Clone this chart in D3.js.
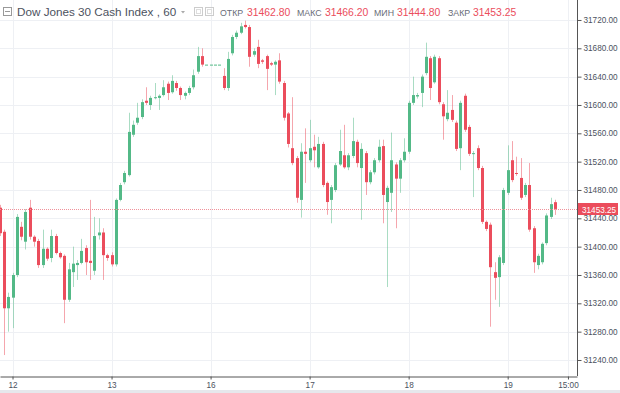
<!DOCTYPE html>
<html><head><meta charset="utf-8">
<script src="https://cdn.jsdelivr.net/npm/d3@7"></script>
<style>body{margin:0;background:#fff;} svg{display:block;font-family:"Liberation Sans",Arial,sans-serif;}</style>
</head><body><svg id="c" width="620" height="393"></svg>
<script>
// ---- data (hourly bars, index 0..129) ----
const opens  = [31455,31421,31313,31328,31360,31428,31407,31455,31414,31408,31374,31397,31384,31415,31391,31387,31325,31364,31374,31377,31398,31380,31366,31416,31420,31388,31388,31375,31466,31491,31501,31558,31575,31583,31606,31600,31610,31610,31614,31630,31618,31631,31624,31613,31617,31625,31647,31669,31657,31657,31657,31657,31641,31624,31673,31696,31702,31713,31710,31671,31682,31663,31669,31659,31657,31663,31631,31588,31539,31525,31466,31534,31522,31541,31512,31545,31490,31466,31480,31516,31529,31512,31528,31548,31511,31532,31491,31505,31522,31542,31463,31476,31516,31496,31522,31534,31603,31612,31617,31645,31666,31632,31666,31601,31580,31593,31575,31539,31613,31569,31531,31539,31511,31435,31431,31364,31357,31377,31476,31522,31504,31497,31473,31487,31426,31374,31378,31405,31442,31462.80];
const highs  = [31459,31424,31335,31363,31446,31435,31453,31466,31416,31411,31424,31399,31424,31418,31393,31389,31377,31400,31381,31411,31402,31466,31442,31440,31426,31390,31392,31468,31490,31507,31589,31578,31603,31608,31625,31613,31631,31615,31635,31633,31642,31634,31626,31619,31627,31650,31682,31680,31657,31657,31657,31657,31652,31675,31699,31705,31716,31719,31713,31680,31692,31665,31671,31661,31663,31673,31634,31590,31611,31528,31546,31567,31579,31558,31555,31548,31492,31487,31518,31565,31572,31532,31582,31551,31546,31535,31508,31525,31551,31551,31486,31561,31519,31525,31553,31606,31640,31617,31643,31688,31669,31671,31669,31604,31621,31614,31578,31606,31616,31572,31535,31543,31514,31437,31434,31378,31388,31483,31543,31549,31527,31525,31490,31518,31429,31390,31406,31447,31469,31466.20];
const lows   = [31415,31247,31280,31285,31357,31409,31396,31410,31400,31370,31370,31380,31378,31389,31383,31292,31322,31343,31353,31375,31360,31353,31360,31410,31353,31380,31372,31372,31464,31488,31499,31555,31572,31580,31600,31593,31608,31593,31612,31607,31616,31620,31607,31608,31614,31622,31644,31654,31657,31657,31657,31657,31621,31620,31670,31693,31700,31708,31654,31668,31652,31658,31621,31655,31614,31630,31578,31540,31515,31462,31441,31490,31519,31512,31510,31484,31445,31433,31477,31514,31510,31508,31525,31512,31438,31473,31488,31502,31519,31433,31343,31449,31426,31476,31519,31531,31600,31609,31597,31642,31607,31630,31601,31551,31577,31576,31535,31508,31562,31528,31470,31508,31432,31422,31287,31325,31315,31374,31473,31491,31500,31466,31470,31421,31363,31368,31375,31402,31439,31444.80];
const closes = [31419,31313,31329,31360,31442,31414,31449,31414,31407,31374,31397,31383,31415,31391,31385,31325,31368,31376,31377,31394,31378,31377,31415,31420,31388,31384,31375,31466,31487,31504,31562,31572,31582,31604,31603,31610,31611,31613,31625,31617,31634,31624,31614,31617,31624,31642,31669,31657,31657,31657,31657,31657,31624,31665,31696,31702,31711,31710,31668,31676,31658,31661,31651,31657,31661,31633,31582,31545,31518,31469,31534,31531,31539,31536,31545,31487,31463,31484,31515,31535,31512,31529,31549,31518,31538,31491,31505,31522,31541,31473,31483,31522,31496,31522,31534,31603,31614,31614,31640,31668,31624,31668,31604,31584,31589,31579,31538,31603,31565,31531,31532,31511,31435,31425,31371,31356,31385,31480,31508,31494,31503,31469,31487,31424,31378,31387,31404,31444,31460,31453.25];
const dayTickBars   = [3, 26, 49, 72, 95, 118, 132];
const dayTickLabels = ["12", "13", "16", "17", "18", "19", "15:00"];
const priceTicks = [31240,31280,31320,31360,31400,31440,31480,31520,31560,31600,31640,31680,31720];
const legendLabels = ["ОТКР", "МАКС", "МИН", "ЗАКР"];
const title = "Dow Jones 30 Cash Index , 60";

// ---- layout ----
const svg = d3.select("#c");
const plotR = 577, plotB = 376;
const UP = "#53b987", DOWN = "#eb4d5c", AXIS = "#555", TXT = "#4c525e";
const x = d3.scaleLinear().domain([0.09, 134.1]).range([0, plotR]);
const y = d3.scaleLinear().domain([31217.4, 31748.2]).range([plotB, 0]);

svg.append("rect").attr("width",620).attr("height",393).attr("fill","#fff");

// grid
const grid = svg.append("g");
grid.selectAll("line.h").data(priceTicks).join("line")
  .attr("x1",0).attr("x2",plotR)
  .attr("y1",d=>Math.round(y(d))+0.5).attr("y2",d=>Math.round(y(d))+0.5)
  .attr("stroke","#eef0f4");
grid.selectAll("line.v").data(dayTickBars).join("line")
  .attr("y1",0).attr("y2",plotB)
  .attr("x1",d=>Math.round(x(d))+0.5).attr("x2",d=>Math.round(x(d))+0.5)
  .attr("stroke","#eef0f4");

// candles
const bars = opens.map((o,i)=>({i,o,h:highs[i],l:lows[i],c:closes[i]}));
const cg = svg.append("g");
cg.selectAll("line").data(bars).join("line")
  .attr("x1",d=>Math.round(x(d.i))+0.5).attr("x2",d=>Math.round(x(d.i))+0.5)
  .attr("y1",d=>y(d.h)).attr("y2",d=>y(d.l))
  .attr("stroke",d=>d.c>=d.o?UP:DOWN).attr("stroke-opacity",0.5);
cg.selectAll("rect").data(bars).join("rect")
  .attr("x",d=>Math.round(x(d.i))-1).attr("width",3)
  .attr("y",d=>y(Math.max(d.o,d.c)))
  .attr("height",d=>Math.max(1,Math.abs(y(d.o)-y(d.c))))
  .attr("fill",d=>d.c>=d.o?UP:DOWN);

// last price line
const last = closes[closes.length-1];
const ly = Math.round(y(last))+0.5;
svg.append("line").attr("x1",0).attr("x2",plotR).attr("y1",ly).attr("y2",ly)
  .attr("stroke","#f0919a").attr("stroke-dasharray","1,1");

// axes
const ya = svg.append("g").attr("transform",`translate(${plotR+0.5},0)`)
  .call(d3.axisRight(y).tickValues(priceTicks).tickFormat(d3.format(".2f")).tickSize(4).tickSizeOuter(0).tickPadding(2));
const xa = svg.append("g").attr("transform",`translate(0,${plotB+0.5})`)
  .call(d3.axisBottom(x).tickValues(dayTickBars).tickFormat((d,i)=>dayTickLabels[i]).tickSize(3).tickSizeOuter(0).tickPadding(3));
[ya,xa].forEach(a=>{
  a.select(".domain").attr("stroke",AXIS);
  a.selectAll(".tick line").attr("stroke",AXIS);
  a.selectAll("text").attr("fill",TXT).attr("font-size",8.2).attr("font-family","Liberation Sans, Arial, sans-serif");
});
ya.select(".domain").attr("d",`M0,0V${plotB}`);

// price label
svg.append("rect").attr("x",plotR+1).attr("y",ly-6.5).attr("width",40).attr("height",12).attr("fill",DOWN);
svg.append("text").attr("x",plotR+5).attr("y",ly+3).attr("fill","#fff").attr("font-size",8.2)
  .text(d3.format(".2f")(last));

// bottom strip
svg.append("rect").attr("x",0).attr("y",390).attr("width",620).attr("height",3).attr("fill","#e6e8ec");

// header
const hd = svg.append("g");
hd.append("rect").attr("x",3.5).attr("y",7.5).attr("width",8).attr("height",8).attr("fill","none").attr("stroke","#999");
hd.append("line").attr("x1",5).attr("x2",10).attr("y1",11.5).attr("y2",11.5).attr("stroke","#999");
hd.append("text").attr("x",17).attr("y",16).attr("fill",TXT).attr("font-size",11.7).text(title);
hd.append("path").attr("d","M181,11 h4 l-2,2.5z").attr("fill","#aaa");
[194,205].forEach(px=>{
  hd.append("rect").attr("x",px+0.5).attr("y",7.5).attr("width",8).attr("height",8).attr("fill","none").attr("stroke","#ccc");
  hd.append("rect").attr("x",px+2.5).attr("y",9.5).attr("width",4).attr("height",4).attr("fill","none").attr("stroke","#ddd");
});
const ohlc = [opens[opens.length-1], highs[highs.length-1], lows[lows.length-1], last];
const labX = [220, 297, 374, 448], valX = [247, 325, 397, 473];
legendLabels.forEach((t,k)=>{
  hd.append("text").attr("x",labX[k]).attr("y",16).attr("fill","#6a6d78").attr("font-size",8.8).text(t);
  hd.append("text").attr("x",valX[k]).attr("y",16).attr("fill",DOWN).attr("font-size",10.4).text(d3.format(".2f")(ohlc[k]));
});
</script></body></html>
